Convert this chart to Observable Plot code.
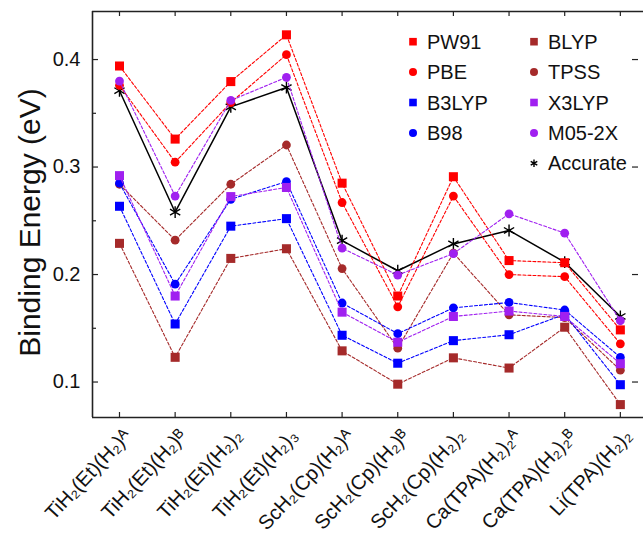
<!DOCTYPE html>
<html><head><meta charset="utf-8">
<script src="https://cdn.jsdelivr.net/npm/d3@7"></script>
<script src="https://cdn.jsdelivr.net/npm/@observablehq/plot@0.6"></script>
<style>
body{margin:0;background:#fff;font-family:"Liberation Sans",Arial,Helvetica,sans-serif}
#chart{position:relative;width:643px;height:539px}
</style>
</head><body><div id="chart"></div>
<script>
// ---- data ----
const categories = ["TiH₂(Et)(H₂)ᴬ","TiH₂(Et)(H₂)ᴮ","TiH₂(Et)(H₂)₂","TiH₂(Et)(H₂)₃","ScH₂(Cp)(H₂)ᴬ","ScH₂(Cp)(H₂)ᴮ","ScH₂(Cp)(H₂)₂","Ca(TPA)(H₂)₂ᴬ","Ca(TPA)(H₂)₂ᴮ","Li(TPA)(H₂)₂"];
const yTicks = [0.1, 0.2, 0.3, 0.4];
const yMinorTicks = [0.15, 0.25, 0.35];
const yLabel = "Binding Energy (eV)";

const accurate = [0.371,0.258,0.356,0.374,0.2315,0.2035,0.2285,0.241,0.2115,0.161];
const pw91     = [0.394,0.326,0.3795,0.423,0.285,0.180,0.291,0.213,0.211,0.1485];
const pbe      = [0.376,0.3045,0.360,0.4045,0.267,0.170,0.273,0.200,0.198,0.1355];
const b3lyp    = [0.2635,0.154,0.245,0.252,0.1435,0.1175,0.1385,0.144,0.163,0.0975];
const b98      = [0.285,0.191,0.270,0.2865,0.1735,0.145,0.169,0.174,0.167,0.123];
const blyp     = [0.229,0.123,0.215,0.224,0.129,0.098,0.1225,0.113,0.151,0.079];
const tpss     = [0.284,0.232,0.284,0.3205,0.2055,0.1315,0.220,0.1625,0.160,0.111];
const x3lyp    = [0.292,0.180,0.2725,0.281,0.165,0.137,0.161,0.166,0.161,0.117];
const m052x    = [0.380,0.273,0.362,0.3835,0.2245,0.1995,0.2195,0.2565,0.2385,0.157];

const RED="#ff0000", BLUE="#0000ff", BROWN="#a52a2a", PURPLE="#a020f0", BLACK="#000000";
// drawing order (first = bottom)
const series = [
  {name:"Accurate", values:accurate, color:BLACK, symbol:"asterisk"},
  {name:"BLYP", values:blyp, color:BROWN, symbol:"square"},
  {name:"TPSS", values:tpss, color:BROWN, symbol:"circle"},
  {name:"B3LYP", values:b3lyp, color:BLUE, symbol:"square"},
  {name:"B98", values:b98, color:BLUE, symbol:"circle"},
  {name:"PW91", values:pw91, color:RED, symbol:"square"},
  {name:"PBE", values:pbe, color:RED, symbol:"circle"},
  {name:"X3LYP", values:x3lyp, color:PURPLE, symbol:"square"},
  {name:"M05-2X", values:m052x, color:PURPLE, symbol:"circle"}
];
const legendCol1 = ["PW91","PBE","B3LYP","B98"];
const legendCol2 = ["BLYP","TPSS","X3LYP","M05-2X","Accurate"];

// ---- layout ----
const W = 643, H = 539;
const mL = 92, mT = 11, mR = 0, mB = 122;
const plotW = W - mL - mR, plotH = H - mT - mB;
const idx = d3.range(categories.length);
const xDomain = [-0.485, 9.416];
const yDomain = [0.067, 0.4447];

const marks = [];
for (const s of series) {
  const rows = s.values.map((v, i) => ({i, v}));
  const solid = s.name === "Accurate";
  marks.push(Plot.line(rows, {x:"i", y:"v", stroke:s.color, strokeWidth: solid ? 1.5 : 1.1,
    strokeDasharray: solid ? null : "3,2"}));
  if (s.symbol === "asterisk") {
    marks.push(Plot.dot(rows, {x:"i", y:"v", symbol:"asterisk", r:5.6, stroke:s.color, fill:"none", strokeWidth:1.4}));
  } else if (s.symbol === "square") {
    marks.push(Plot.dot(rows, {x:"i", y:"v", symbol:"square", r:5.1, fill:s.color, stroke:"none"}));
  } else {
    marks.push(Plot.dot(rows, {x:"i", y:"v", symbol:"circle", r:4.4, fill:s.color, stroke:"none"}));
  }
}

const svg = Plot.plot({
  width: W, height: H,
  marginLeft: mL, marginTop: mT, marginRight: mR, marginBottom: mB,
  style: {fontFamily: '"Liberation Sans", Arial, Helvetica, sans-serif', color: "#111", background: "#fff"},
  x: {type: "linear", domain: xDomain, axis: null},
  y: {domain: yDomain},
  marks: [
    // frame lines
    Plot.ruleX([xDomain[0]], {stroke:"#222", strokeWidth:1.6}),
    Plot.ruleY([yDomain[0], yDomain[1]], {stroke:"#222", strokeWidth:1.6}),
    // inward ticks
    Plot.ruleY(yTicks, {insetRight: plotW - 6, stroke:"#222", strokeWidth:1.2}),
    Plot.ruleY(yMinorTicks, {insetRight: plotW - 4, stroke:"#222", strokeWidth:1.2}),
    Plot.ruleY(yTicks, {insetLeft: plotW - 11, insetRight: 5, stroke:"#222", strokeWidth:1.2}),
    Plot.ruleX(idx, {insetBottom: plotH - 5, stroke:"#222", strokeWidth:1.2}),
    Plot.ruleX(idx, {insetTop: plotH - 5, stroke:"#222", strokeWidth:1.2}),
    // axes
    Plot.axisY(yTicks, {tickSize: 0, tickPadding: 12, fontSize: 20, tickFormat: d3.format(".1f"), label: null}),
    Plot.text(idx, {x: d => d, frameAnchor: "bottom", text: i => categories[i], rotate: -47,
      textAnchor: "end", lineAnchor: "middle", fontSize: 20, dx: 8, dy: 15, fill: "#111", ariaLabel: "xticklabel"}),
    Plot.text([yLabel], {text: d => d, frameAnchor: "left", textAnchor: "middle", rotate: -90, dx: -62, dy: 8, fontSize: 30, fill: "#111"}),
    ...marks
  ]
});

// rich text for subscripts / superscripts in x tick labels
const subMap = {"₂":"2","₃":"3"}, supMap = {"ᴬ":"A","ᴮ":"B"};
const SUB = 6, SUP = 9, SMALL = 14, SUBW = 7.8;
d3.select(svg).selectAll('g[aria-label="xticklabel"] text').each(function() {
  const el = d3.select(this);
  const str = el.text();
  el.text(null);
  let buf = "", shift = 0;
  const flush = () => { if (buf) { const t = el.append("tspan").text(buf); if (shift) { t.attr("dy", -shift); shift = 0; } buf = ""; } };
  for (const ch of str) {
    if (subMap[ch]) {
      flush();
      el.append("tspan").attr("font-size", SMALL).attr("dy", SUB - shift).text(subMap[ch]);
      shift = SUB;
    } else if (supMap[ch]) {
      const prevSub = buf === "" && shift === SUB;
      flush();
      const t = el.append("tspan").attr("font-size", SMALL).attr("dy", -SUP - shift).text(supMap[ch]);
      if (prevSub) t.attr("dx", -SUBW);
      shift = -SUP;
    } else {
      buf += ch;
    }
  }
  flush();
});

// legend (inside plot area)
const byName = Object.fromEntries(series.map(s => [s.name, s]));
const lg = d3.select(svg).append("g").attr("font-family", '"Liberation Sans", Arial, sans-serif')
  .attr("font-size", 20).attr("fill", "#111").attr("text-anchor", "start");
const rowY = k => 41.7 + 30.4 * k;
function legendItem(name, mx, tx, y) {
  const s = byName[name];
  if (s.symbol === "asterisk") {
    lg.append("path").attr("transform", `translate(${mx},${y})`).attr("d", d3.symbol(d3.symbolAsterisk, 40)()).attr("stroke", s.color).attr("stroke-width", 1.4).attr("fill", "none");
  } else if (s.symbol === "square") {
    lg.append("rect").attr("x", mx - 3.8).attr("y", y - 3.8).attr("width", 7.6).attr("height", 7.6).attr("fill", s.color);
  } else {
    lg.append("circle").attr("cx", mx).attr("cy", y).attr("r", 4).attr("fill", s.color);
  }
  lg.append("text").attr("x", tx).attr("y", y).attr("dy", "0.35em").text(name);
}
legendCol1.forEach((n, k) => legendItem(n, 413, 427, rowY(k)));
legendCol2.forEach((n, k) => legendItem(n, 534, 548, rowY(k)));

document.getElementById("chart").append(svg);
</script>
</body></html>
